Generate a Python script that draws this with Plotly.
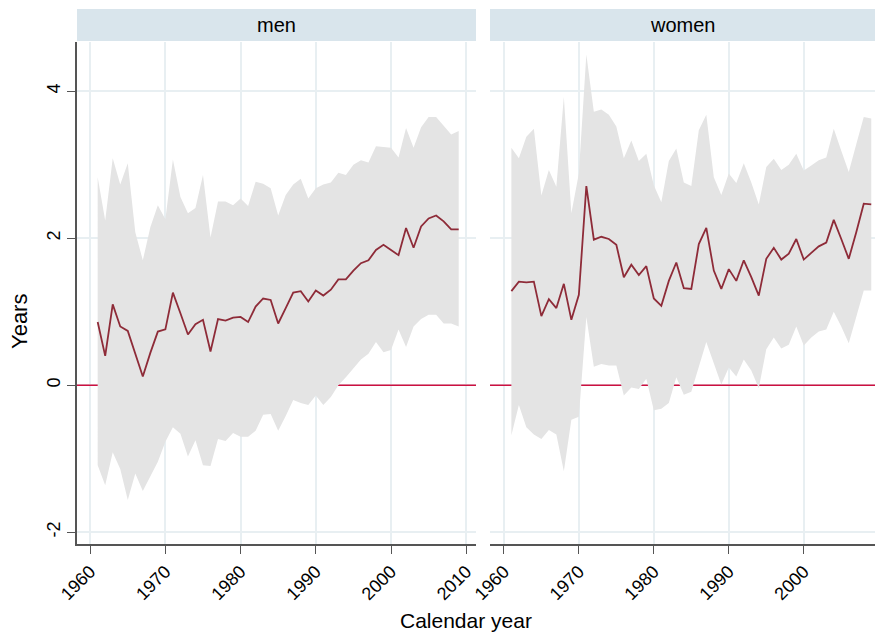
import plotly.graph_objects as go

years = list(range(1961, 2010))

men_est = [0.86, 0.40, 1.10, 0.80, 0.74, 0.44, 0.12, 0.44, 0.73, 0.76,
           1.26, 0.98, 0.69, 0.83, 0.89, 0.46, 0.90, 0.88, 0.92, 0.93,
           0.86, 1.07, 1.18, 1.16, 0.84, 1.05, 1.26, 1.28, 1.14, 1.29,
           1.22, 1.30, 1.44, 1.44, 1.56, 1.66, 1.70, 1.84, 1.91, 1.84,
           1.77, 2.14, 1.87, 2.16, 2.27, 2.31, 2.23, 2.12, 2.12]
men_hi = [2.83, 2.24, 3.09, 2.73, 3.02, 2.08, 1.70, 2.15, 2.45, 2.26,
          3.07, 2.56, 2.34, 2.41, 2.86, 2.01, 2.50, 2.50, 2.45, 2.54,
          2.44, 2.77, 2.74, 2.68, 2.31, 2.59, 2.73, 2.81, 2.54, 2.68,
          2.73, 2.76, 2.89, 2.86, 3.00, 3.06, 3.03, 3.25, 3.24, 3.23,
          3.10, 3.50, 3.23, 3.51, 3.65, 3.65, 3.53, 3.41, 3.46]
men_lo = [-1.09, -1.36, -0.91, -1.14, -1.56, -1.20, -1.44, -1.25, -1.04, -0.77,
          -0.57, -0.66, -0.97, -0.75, -1.09, -1.10, -0.73, -0.76, -0.65, -0.70,
          -0.70, -0.62, -0.40, -0.39, -0.62, -0.42, -0.20, -0.24, -0.27, -0.14,
          -0.27, -0.16, 0.00, 0.11, 0.23, 0.35, 0.43, 0.59, 0.45, 0.48,
          0.76, 0.52, 0.80, 0.90, 0.96, 0.96, 0.84, 0.84, 0.80]

women_est = [1.28, 1.41, 1.40, 1.41, 0.94, 1.17, 1.05, 1.38, 0.89, 1.23,
             2.71, 1.98, 2.02, 1.99, 1.91, 1.47, 1.64, 1.50, 1.62, 1.18,
             1.08, 1.42, 1.67, 1.32, 1.31, 1.92, 2.14, 1.56, 1.31, 1.58,
             1.42, 1.70, 1.47, 1.22, 1.72, 1.87, 1.71, 1.79, 1.99, 1.71,
             1.80, 1.89, 1.94, 2.25, 1.99, 1.72, 2.08, 2.47, 2.46]
women_hi = [3.23, 3.09, 3.38, 3.49, 2.58, 2.93, 2.70, 3.92, 2.34, 2.88,
            4.50, 3.72, 3.75, 3.68, 3.52, 3.09, 3.33, 3.05, 3.15, 2.72,
            2.49, 3.05, 3.22, 2.76, 2.71, 3.47, 3.68, 2.83, 2.59, 2.88,
            2.75, 3.02, 2.76, 2.46, 2.97, 3.08, 2.93, 3.00, 3.15, 2.92,
            2.99, 3.06, 3.10, 3.49, 3.19, 2.90, 3.28, 3.65, 3.63]
women_lo = [-0.68, -0.27, -0.57, -0.67, -0.73, -0.61, -0.67, -1.17, -0.47, -0.43,
            0.93, 0.25, 0.29, 0.27, 0.27, -0.14, -0.03, -0.05, 0.09, -0.34,
            -0.32, -0.24, 0.11, -0.13, -0.09, 0.25, 0.59, 0.30, 0.01, 0.24,
            0.12, 0.35, 0.20, -0.04, 0.49, 0.65, 0.50, 0.55, 0.80, 0.54,
            0.65, 0.73, 0.76, 1.00, 0.80, 0.57, 0.93, 1.29, 1.29]

panels = [("men", men_est, men_lo, men_hi),
          ("women", women_est, women_lo, women_hi)]

x_ticks = [1960, 1970, 1980, 1990, 2000, 2010]
y_ticks = [-2, 0, 2, 4]
y_labels = ["-2", "0", "2", "4"]
ref_value = 0

FONT = "Liberation Sans, Arial, sans-serif"
BAND = "#e4e4e4"
LINE = "#8e2b38"
REF = "#cc1040"
GRID = "#e8eff2"
STRIP = "#d9e5ec"
AXIS = "#555555"

W, H = 875, 632
ml, mt, mb = 77, 42, 88
pw, ph = W - ml, H - mt - mb
domains = [[0, 399 / pw], [413 / pw, 1]]
ranges = [[1958.25, 2011.3], [1958.15, 2009.5]]

fig = go.Figure()
for i, (name, est, lo, hi) in enumerate(panels):
    xa = "x" if i == 0 else "x2"
    ya = "y" if i == 0 else "y2"
    # reference line first, so the band covers it
    fig.add_trace(go.Scatter(x=ranges[i], y=[ref_value, ref_value], mode="lines",
                             line=dict(color=REF, width=1.6), cliponaxis=True,
                             xaxis=xa, yaxis=ya, showlegend=False, hoverinfo="skip"))
    fig.add_trace(go.Scatter(x=years, y=hi, mode="lines", line=dict(width=0),
                             xaxis=xa, yaxis=ya, showlegend=False, hoverinfo="skip"))
    fig.add_trace(go.Scatter(x=years, y=lo, mode="lines", line=dict(width=0),
                             fill="tonexty", fillcolor=BAND,
                             xaxis=xa, yaxis=ya, showlegend=False, hoverinfo="skip"))
    fig.add_trace(go.Scatter(x=years, y=est, mode="lines", line=dict(color=LINE, width=1.8),
                             xaxis=xa, yaxis=ya, showlegend=False, name=name))
    # strip header
    fig.add_shape(type="rect", xref="paper", yref="paper",
                  x0=domains[i][0], x1=domains[i][1], y0=1 + 1 / ph, y1=1 + 33 / ph,
                  fillcolor=STRIP, line=dict(width=0))
    fig.add_annotation(x=(domains[i][0] + domains[i][1]) / 2, y=1 + 17 / ph,
                       xref="paper", yref="paper", text=name, showarrow=False,
                       xanchor="center", yanchor="middle",
                       font=dict(size=20, color="black", family=FONT))

    axis_x = dict(domain=domains[i], range=ranges[i], tickvals=x_ticks,
                  ticktext=[str(t) for t in x_ticks], tickangle=-45,
                  ticks="outside", ticklen=8, tickcolor=AXIS, tickwidth=1.2,
                  showline=True, linecolor=AXIS, linewidth=1.8,
                  showgrid=True, gridcolor=GRID, gridwidth=1.5, zeroline=False,
                  tickfont=dict(size=18, family=FONT, color="black"), anchor=ya)
    axis_y = dict(domain=[0, 1], range=[-2.16, 4.67], tickvals=y_ticks,
                  ticktext=y_labels,
                  showgrid=True, gridcolor=GRID, gridwidth=1.5, zeroline=False,
                  anchor=xa)
    if i == 0:
        axis_y.update(ticks="outside", ticklen=8, tickcolor=AXIS, tickwidth=1.2,
                      showline=True, linecolor=AXIS, linewidth=1.8, tickangle=-90,
                      tickfont=dict(size=18, family=FONT, color="black"))
    else:
        axis_y.update(showticklabels=False, showline=False, matches="y")
    key = "" if i == 0 else "2"
    fig.update_layout(**{f"xaxis{key}": axis_x, f"yaxis{key}": axis_y})

fig.add_annotation(x=(19 - ml) / pw, y=(H - mb - 322) / ph, xref="paper", yref="paper",
                   text="Years", textangle=-90, showarrow=False,
                   xanchor="center", yanchor="middle",
                   font=dict(size=22, family=FONT, color="black"))
fig.add_annotation(x=(466 - ml) / pw, y=-(620 - (H - mb)) / ph, xref="paper", yref="paper",
                   text="Calendar year", showarrow=False,
                   xanchor="center", yanchor="middle",
                   font=dict(size=21, family=FONT, color="black"))

fig.update_layout(width=W, height=H, margin=dict(l=ml, r=0, t=mt, b=mb),
                  paper_bgcolor="white", plot_bgcolor="white",
                  font=dict(family=FONT), showlegend=False)

fig.write_html("out.html", config={"displayModeBar": False},
               post_script="document.body.style.margin='0';")
